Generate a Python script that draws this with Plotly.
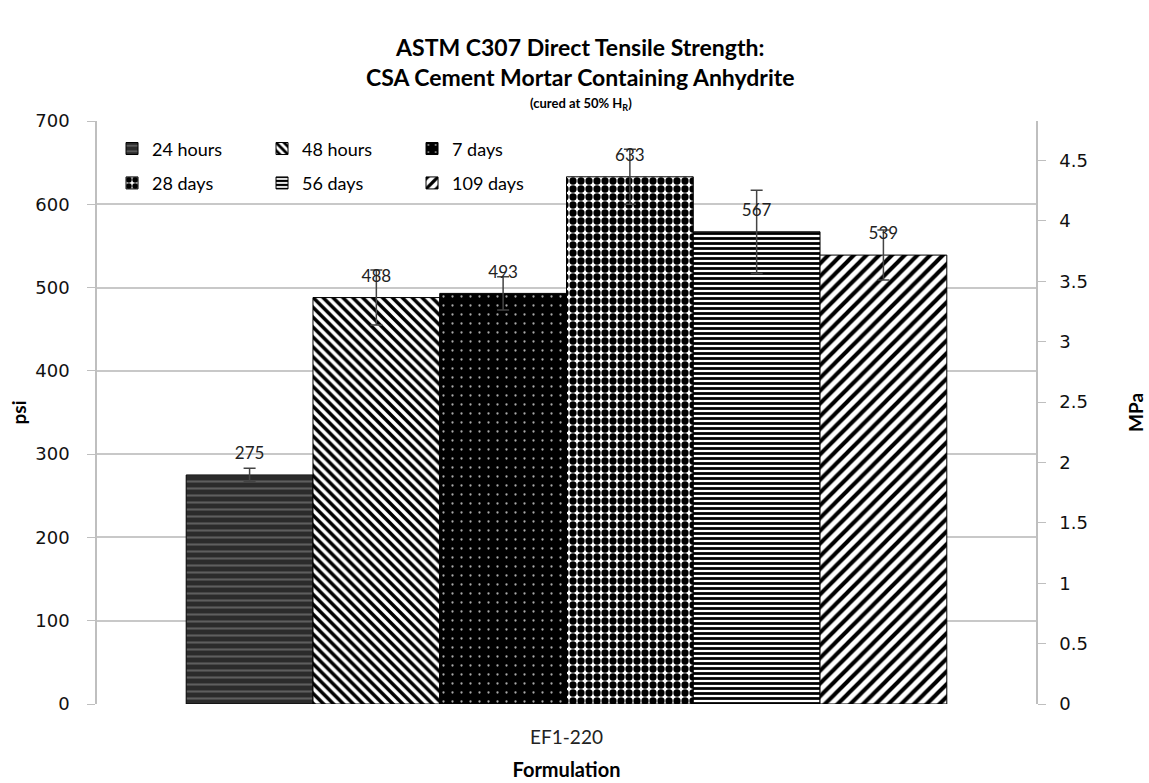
import plotly.graph_objects as go

# data
category = ["EF1-220"]
series = ["24 hours", "48 hours", "7 days", "28 days", "56 days", "109 days"]
psi_values = [275, 488, 493, 633, 567, 539]
psi_errors = [8, 33, 20, 33, 50, 30]
psi_ticks = [0, 100, 200, 300, 400, 500, 600, 700]
mpa_ticks = [0, 0.5, 1, 1.5, 2, 2.5, 3, 3.5, 4, 4.5]
PSI_PER_MPA = 145.038

# fill patterns that mimic the Excel textures
patterns = [
    dict(shape="-", bgcolor="#2b2b2b", fgcolor="#5e5e5e", size=7, solidity=0.3),
    dict(shape="\\", bgcolor="white", fgcolor="black", size=7, solidity=0.5),
    dict(shape=".", bgcolor="black", fgcolor="#aaaaaa", size=9, solidity=0.05),
    dict(shape=".", bgcolor="white", fgcolor="black", size=8, solidity=0.65),
    dict(shape="-", bgcolor="white", fgcolor="black", size=5, solidity=0.55),
    dict(shape="/", bgcolor="white", fgcolor="black", size=9, solidity=0.45),
]
legend_ids = ["legend", "legend", "legend", "legend2", "legend2", "legend2"]

fig = go.Figure()

for name, val, err, pat, leg in zip(series, psi_values, psi_errors, patterns, legend_ids):
    fig.add_trace(go.Bar(
        x=category,
        y=[val],
        name=name,
        legend=leg,
        offsetgroup=name,
        marker=dict(color=pat["bgcolor"], pattern=dict(pat, fgopacity=1, fillmode="replace"),
                    line=dict(color="black", width=1)),
        error_y=dict(type="data", array=[err], color="#444444",
                     thickness=1.5, width=6),
    ))

# value labels, grouped like the bars
for name, val in zip(series, psi_values):
    fig.add_trace(go.Scatter(
        x=category,
        y=[val],
        offsetgroup=name,
        mode="markers+text",
        text=[str(val)],
        textposition="top center",
        textfont=dict(family="Lato", size=17, color="#222222"),
        marker=dict(size=17, opacity=0),
        showlegend=False,
        hoverinfo="skip",
        cliponaxis=False,
    ))

# invisible trace so the MPa axis is drawn
fig.add_trace(go.Scatter(
    x=category,
    y=[max(psi_values) / PSI_PER_MPA],
    yaxis="y2",
    mode="markers",
    marker=dict(opacity=0),
    showlegend=False,
    hoverinfo="skip",
))

fig.update_layout(
    width=1149,
    height=783,
    margin=dict(l=97, r=113, t=121, b=79),
    plot_bgcolor="white",
    paper_bgcolor="white",
    barmode="group",
    bargap=0.19,
    bargroupgap=0,
    scattermode="group",
    scattergap=0.19,
    xaxis=dict(
        automargin=False,
        showline=False,
        ticks="",
        ticklabelstandoff=20,
        tickfont=dict(family="Lato", size=19, color="#222222"),
        title=dict(text="<b>Formulation</b>", font=dict(family="Lato", size=20, color="black"),
                   standoff=15),
    ),
    yaxis=dict(
        automargin=False,
        range=[0, 700],
        tickvals=psi_ticks,
        showline=True,
        linecolor="#bfbfbf",
        linewidth=1.5,
        ticks="outside",
        ticklen=8,
        tickcolor="#bfbfbf",
        ticklabelstandoff=14,
        showgrid=True,
        gridcolor="#c8c8c8",
        gridwidth=1.5,
        zeroline=False,
        tickfont=dict(family="DejaVu Sans", size=18, color="#111111"),
        title=dict(text="<b>psi</b>", font=dict(family="Lato", size=19, color="black"),
                   standoff=4),
    ),
    yaxis2=dict(
        automargin=False,
        overlaying="y",
        side="right",
        range=[0, 700 / PSI_PER_MPA],
        tickvals=mpa_ticks,
        showline=True,
        linecolor="#bfbfbf",
        linewidth=1.5,
        ticks="outside",
        ticklen=8,
        tickcolor="#bfbfbf",
        ticklabelstandoff=10,
        showgrid=False,
        zeroline=False,
        tickfont=dict(family="DejaVu Sans", size=18, color="#111111"),
        title=dict(text="<b>MPa</b>", font=dict(family="Lato", size=19, color="black"),
                   standoff=43),
    ),
    legend=dict(
        orientation="h", x=0.016, y=0.984, xanchor="left", yanchor="top",
        entrywidth=105, entrywidthmode="pixels",
        font=dict(family="Lato", size=18, color="black"),
        bgcolor="rgba(0,0,0,0)", traceorder="normal",
    ),
    legend2=dict(
        orientation="h", x=0.016, y=0.925, xanchor="left", yanchor="top",
        entrywidth=105, entrywidthmode="pixels",
        font=dict(family="Lato", size=18, color="black"),
        bgcolor="rgba(0,0,0,0)", traceorder="normal",
    ),
)

# title and subtitle above the plot area
fig.add_annotation(
    text="<b>ASTM C307 Direct Tensile Strength:<br>CSA Cement Mortar Containing Anhydrite</b>",
    x=0.515, xref="paper", y=1.0, yref="paper",
    xanchor="center", yanchor="bottom", yshift=28, showarrow=False,
    font=dict(family="Lato", size=23, color="black"),
)
fig.add_annotation(
    text="<b>(cured at 50% H<sub>R</sub>)</b>",
    x=0.515, xref="paper", y=1.0, yref="paper",
    xanchor="center", yanchor="bottom", yshift=6, showarrow=False,
    font=dict(family="Lato", size=13, color="black"),
)

# drop the default page margin so the figure fills the window exactly
fig.write_html(
    "out.html",
    config={"displayModeBar": False},
    post_script="document.body.style.margin='0';document.body.style.overflow='hidden';",
)
